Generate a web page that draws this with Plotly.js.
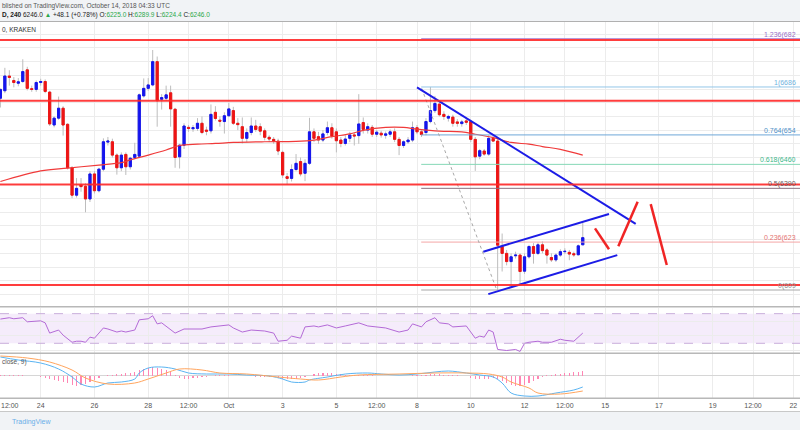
<!DOCTYPE html>
<html><head><meta charset="utf-8">
<script src="https://cdn.plot.ly/plotly-3.0.1.min.js"></script>
<style>html,body{margin:0;padding:0;background:#fff}#chart{width:800px;height:430px}</style>
</head><body><div id="chart"></div>
<script>
// ---- data (4h candles, Kraken BTCUSD, first bar 2018-09-22 12:00) ----
const firstBar = Date.UTC(2018, 8, 22, 12, 0, 0);
const barHours = 4;
const opens = [6653,6675,6718,6705,6697,6702,6736,6681,6679,6699,
 6702,6671,6575,6595,6624,6577,6450,6370,6400,6396,
 6359,6432,6383,6446,6525,6526,6487,6450,6489,6453,
 6480,6484,6660,6682,6692,6760,6650,6653,6669,6621,
 6482,6516,6568,6564,6565,6580,6560,6558,6612,6589,
 6585,6602,6617,6580,6570,6536,6553,6572,6570,6558,
 6539,6533,6528,6495,6424,6419,6445,6468,6434,6463,
 6555,6541,6531,6553,6567,6555,6531,6521,6536,6546,
 6544,6582,6560,6568,6548,6551,6545,6548,6555,6533,
 6515,6526,6531,6567,6555,6553,6585,6617,6636,6606,
 6595,6598,6584,6579,6587,6585,6533,6484,6499,6490,
 6536,6528,6220,6200,6176,6193,6195,6148,6190,6220,
 6200,6225,6210,6188,6181,6195,6205,6203,6199,6196,
 6225];
const highs = [6681,6742,6735,6715,6712,6767,6745,6690,6705,6710,
 6708,6675,6600,6658,6630,6580,6455,6420,6420,6405,
 6440,6440,6450,6536,6540,6535,6492,6495,6495,6482,
 6523,6667,6711,6712,6794,6775,6665,6690,6690,6625,
 6520,6580,6575,6575,6595,6600,6570,6635,6630,6600,
 6612,6640,6628,6595,6597,6565,6597,6590,6580,6565,
 6545,6540,6535,6500,6435,6460,6490,6480,6475,6596,
 6565,6555,6560,6585,6580,6565,6540,6545,6555,6552,
 6665,6597,6580,6575,6560,6558,6556,6562,6565,6540,
 6530,6540,6585,6575,6560,6595,6686,6660,6645,6615,
 6605,6605,6592,6590,6595,6590,6540,6505,6505,6545,
 6545,6535,6258,6210,6200,6205,6200,6200,6225,6230,
 6232,6235,6215,6200,6200,6212,6215,6210,6205,6226,
 6289.9];
const lows = [6626,6668,6690,6685,6688,6698,6676,6672,6672,6690,
 6668,6572,6568,6590,6544,6445,6361,6363,6380,6320,
 6350,6375,6378,6440,6515,6480,6430,6440,6429,6445,
 6475,6478,6655,6675,6688,6570,6620,6645,6570,6450,
 6448,6505,6555,6555,6558,6548,6545,6550,6588,6570,
 6550,6598,6575,6560,6521,6525,6545,6555,6545,6530,
 6525,6520,6487,6420,6400,6410,6440,6425,6411,6458,
 6525,6520,6525,6545,6535,6495,6510,6515,6525,6515,
 6520,6550,6550,6540,6540,6538,6535,6540,6525,6487,
 6508,6520,6525,6548,6540,6545,6580,6610,6600,6590,
 6585,6570,6570,6570,6575,6525,6441,6475,6485,6485,
 6525,6093,6147,6165,6108,6185,6108,6140,6185,6170,
 6195,6200,6170,6175,6175,6190,6198,6180,6190,6194,
 6224.4];
const closes = [6679,6718,6714,6699,6701,6731,6682,6679,6699,6702,
 6673,6578,6595,6624,6575,6450,6370,6390,6395,6359,
 6432,6383,6446,6526,6528,6487,6450,6487,6453,6478,
 6489,6663,6682,6692,6760,6646,6655,6663,6622,6480,
 6516,6572,6565,6567,6580,6553,6557,6606,6594,6586,
 6602,6622,6580,6576,6536,6553,6572,6562,6557,6539,
 6534,6529,6499,6429,6419,6445,6463,6432,6463,6555,
 6536,6531,6549,6567,6543,6529,6521,6534,6546,6543,
 6578,6562,6570,6548,6554,6546,6549,6555,6533,6515,
 6526,6531,6567,6555,6547,6585,6617,6638,6605,6600,
 6600,6580,6580,6584,6583,6533,6482,6500,6490,6536,
 6528,6224,6200,6176,6190,6195,6147,6190,6220,6200,
 6225,6208,6195,6181,6195,6205,6206,6198,6196,6222,
 6246];
// moving average (read at bar indices)
const maIdx  = [0,9,15,22,27,29,33,37,40,44,48,52,59,66,70,74,78,81,86,90,93,98,103,106,110,114,118,121,125,130];
const maVals = [6410,6441,6449,6458,6465,6473,6487,6502,6515,6519,6521,6524,6526,6527,6531,6541,6549,6559,6568,6568,6563,6557,6555,6548,6538,6524,6519,6512,6504,6487];
// RSI
const rsiIdx  = [0,2,3,5,6,9,10,11,13,14,16,17,18,19,20,21,23,24,26,27,28,30,31,33,34,35,36,39,41,43,45,47,51,52,54,56,59,61,62,64,65,67,68,70,71,73,75,77,80,82,84,86,89,91,92,94,95,97,98,100,101,104,106,107,108,109,110,111,113,115,116,117,118,120,121,123,125,126,128,130];
const rsiVals = [62.7,64.5,63.1,64.5,59,60.3,57.6,43.8,47.9,41,31.4,32.8,32.8,31.4,38.3,36.9,50.7,49.3,45.2,46.6,45.2,47.9,61.7,63.1,67.2,56.2,57.6,43.8,49.3,49.3,49.3,52.1,54.8,50.7,45.2,47.9,46.6,43.8,32.8,34.1,39.7,36.9,52.1,53.4,52.1,54.8,50.7,53.4,57.6,53.4,52.1,50.7,45.2,47.9,56.2,52.1,59,64.5,57.6,56.2,52.1,53.4,36.9,39.7,38.3,47.9,45.2,21.7,20.3,21.7,19,30,31.4,32.8,31.4,31.4,35.5,34.1,32.8,43.8];
// MACD (12, 26, close, 9)
const macdIdx  = [0,4,9,13,16,18,21,24,27,30,31,33,36,39,42,46,51,55,60,63,65,68,69,73,77,82,85,89,93,97,100,104,107,110,112,114,117,120,124,128,130];
const macdVals = [74.8,62.8,50.8,26.8,-5.2,-33.2,-45.2,-29.2,-25.2,-13.2,10.8,30.8,34.8,26.8,10.8,6.8,6.8,2.8,-1.2,-13.2,-25.2,-25.2,-17.2,-5.2,6.8,10.8,6.8,2.8,6.8,14.8,18.8,10.8,2.8,-5.2,-29.2,-69.2,-81.2,-81.2,-69.2,-57.2,-45.2];
const sigIdx  = [0,6,11,16,19,24,30,33,37,40,45,49,55,62,67,71,76,80,89,97,104,109,112,114,118,120,125,130];
const sigVals = [78.8,70.8,54.8,22.8,-9.2,-33.2,-29.2,-13.2,10.8,26.8,22.8,10.8,6.8,-5.2,-13.2,-17.2,-5.2,2.8,6.8,10.8,10.8,6.8,-5.2,-25.2,-49.2,-69.2,-73.2,-61.2];
const histVals = [2,2,1.2,1.2,1.2,1.2,-1.2,-1.2,-2,-4,
 -8,-12,-16,-20,-24,-28,-36,-40,-38,-32,
 -24,-18,-8,-2,2,4,6,8,10,12,
 16,24,28,32,34,32,28,22,14,4,
 -8,-12,-12,-10,-8,-6,-4,-2,1.2,1.2,
 2,1.2,0.8,-0.8,-1.2,-2,-2,-3.2,-4,-4,
 -4.8,-6,-8,-12,-14,-14,-12,-10,-6,0,
 6,10,12,12,10,8,6,4,3.2,2,
 3.2,2,1.2,1.2,0.8,-0.8,-1.2,-1.2,-0.8,-1.2,
 -0.8,0.8,1.2,2,4,4,6,6,6,4,
 4,2,1.2,0,-2,-8,-12,-14,-14,-12,
 -10,-12,-20,-30,-38,-40,-40,-36,-28,-20,
 -12,-4,2,4,6,8,10,12,14,16,
 18];
// horizontal support / resistance levels
const levelPrices = [6823, 6646, 6401, 6108];
// Fibonacci retracement levels
const fibLabels = ['1.236(682','1(6686','0.764(654','0.618(6460','0.5(6390','0.236(623','0(609'];
const fibPrices = [6827, 6686, 6546, 6460, 6390, 6233, 6093];
const fibStart = '2018-10-08 03:45';
const fibDiagX = ['2018-10-08 04:10','2018-10-10 23:10'];
const fibDiagY = [6682, 6093];
// drawn trend lines
const downTrendX = ['2018-10-08 00:00','2018-10-16 03:15'];
const downTrendY = [6685, 6286];
const chanUpX = ['2018-10-10 11:10','2018-10-15 03:25'];
const chanUpY = [6205, 6315];
const chanLowX = ['2018-10-10 15:40','2018-10-15 10:50'];
const chanLowY = [6081, 6195];
const projAX = ['2018-10-14 14:55','2018-10-15 03:25'];
const projAY = [6273, 6212];
const projBX = ['2018-10-15 11:45','2018-10-16 05:00'];
const projBY = [6221, 6351];
const projCX = ['2018-10-16 16:40','2018-10-17 07:00'];
const projCY = [6344, 6166];
// axis ticks (first tick's label is placed inside the left edge separately)
const tickVals = ['2018-09-22 12:00','2018-09-24','2018-09-26','2018-09-28','2018-09-29 12:00','2018-10-01','2018-10-03','2018-10-05','2018-10-06 12:00','2018-10-08','2018-10-10','2018-10-12','2018-10-13 12:00','2018-10-15','2018-10-17','2018-10-19','2018-10-20 12:00','2018-10-22'];
const tickText = ['','24','26','28','12:00','Oct','3','5','12:00','8','10','12','12:00','15','17','19','12:00','22'];
const firstTickLabel = '12:00';
const xRange = ['2018-09-22 11:39:36','2018-10-22 05:57:30'];

// ---- build ----
function barTime(i){ return new Date(firstBar + i*barHours*3600000).toISOString().slice(0,19).replace('T',' '); }
const times = opens.map((_, i) => barTime(i));
const bodyHigh = opens.map((o, i) => Math.max(o, closes[i]));
const bodyLow = opens.map((o, i) => Math.min(o, closes[i]));
const H = 430;
const py = px => 1 - px / H;
const FONT = 'Liberation Sans, Arial, sans-serif';
const BLUE = '#1414ee', RED = '#ee1414';

const traces = [
  {type:'candlestick', x:times, open:opens, high:highs, low:lows, close:closes, xaxis:'x', yaxis:'y',
   increasing:{line:{color:'#bdbdbd', width:1}, fillcolor:'#bdbdbd'},
   decreasing:{line:{color:'#bdbdbd', width:1}, fillcolor:'#bdbdbd'}, whiskerwidth:0, hoverinfo:'skip'},
  {type:'candlestick', x:times, open:opens, high:bodyHigh, low:bodyLow, close:closes, xaxis:'x', yaxis:'y',
   increasing:{line:{color:BLUE, width:1}, fillcolor:BLUE},
   decreasing:{line:{color:RED, width:1}, fillcolor:RED}, whiskerwidth:0, hoverinfo:'skip'},
  {type:'scatter', mode:'lines', x:maIdx.map(barTime), y:maVals, line:{color:'#f03a3a', width:1.2, shape:'spline'}, xaxis:'x', yaxis:'y'}
];
// fib lines
const fibColors = ['#a67fd0','#93c6e8','#6fa8d8','#86d8b6','#8a7080','#f4a6a6','#a8a8a8'];
fibPrices.forEach((p, k) => traces.push({type:'scatter', mode:'lines', x:[fibStart, xRange[1]], y:[p, p],
  line:{color:fibColors[k], width:1}, xaxis:'x', yaxis:'y'}));
traces.push({type:'scatter', mode:'lines', x:fibDiagX, y:fibDiagY, line:{color:'#a8a8a8', width:1, dash:'dot'}, xaxis:'x', yaxis:'y'});
// trend lines
[[downTrendX, downTrendY],[chanUpX, chanUpY],[chanLowX, chanLowY]].forEach(([x, y]) =>
  traces.push({type:'scatter', mode:'lines', x, y, line:{color:'#1c1ce6', width:2}, xaxis:'x', yaxis:'y'}));
[[projAX, projAY],[projBX, projBY],[projCX, projCY]].forEach(([x, y]) =>
  traces.push({type:'scatter', mode:'lines', x, y, line:{color:'#f02424', width:2.5}, xaxis:'x', yaxis:'y'}));
// RSI
traces.push({type:'scatter', mode:'lines', x:rsiIdx.map(barTime), y:rsiVals, line:{color:'#b36ad6', width:1}, xaxis:'x', yaxis:'y2'});
// MACD
traces.push({type:'bar', x:times, y:histVals, width:3600000, marker:{color:'#ff86b4', line:{width:0}}, xaxis:'x', yaxis:'y3'});
traces.push({type:'scatter', mode:'lines', x:macdIdx.map(barTime), y:macdVals, line:{color:'#5ab4f2', width:1, shape:'spline'}, xaxis:'x', yaxis:'y3'});
traces.push({type:'scatter', mode:'lines', x:sigIdx.map(barTime), y:sigVals, line:{color:'#ffa55e', width:1, shape:'spline'}, xaxis:'x', yaxis:'y3'});

const shapes = [
  {type:'rect', xref:'paper', yref:'paper', x0:0, x1:1, y0:py(21), y1:1, fillcolor:'#f1f3f6', line:{width:0}},
  {type:'line', xref:'paper', yref:'paper', x0:0, x1:1, y0:py(21.5), y1:py(21.5), line:{color:'#b0b0b0', width:1}},
  {type:'rect', xref:'paper', yref:'paper', x0:0, x1:1, y0:0, y1:py(412), fillcolor:'#f1f3f6', line:{width:0}},
  {type:'line', xref:'paper', yref:'paper', x0:0, x1:1, y0:py(411.5), y1:py(411.5), line:{color:'#c8c8c8', width:1}},
  {type:'line', xref:'paper', yref:'paper', x0:0, x1:1, y0:py(306.7), y1:py(306.7), line:{color:'#b8b8b8', width:1.5}},
  {type:'line', xref:'paper', yref:'paper', x0:0, x1:1, y0:py(353.3), y1:py(353.3), line:{color:'#b8b8b8', width:1.5}},
  {type:'line', xref:'paper', yref:'paper', x0:0, x1:1, y0:py(398.3), y1:py(398.3), line:{color:'#b8b8b8', width:1.5}},
  {type:'rect', xref:'paper', yref:'y2', x0:0, x1:1, y0:30, y1:70, fillcolor:'rgba(186,120,230,0.14)', line:{width:0}, layer:'below'},
  {type:'line', xref:'paper', yref:'y2', x0:0, x1:1, y0:70, y1:70, line:{color:'#c9aedb', width:1, dash:'dash'}},
  {type:'line', xref:'paper', yref:'y2', x0:0, x1:1, y0:30, y1:30, line:{color:'#c9aedb', width:1, dash:'dash'}}
];
levelPrices.forEach(p => shapes.push({type:'line', xref:'paper', yref:'y', x0:0, x1:1, y0:p, y1:p, line:{color:'rgba(255,40,40,0.9)', width:2}}));

const fibTextColors = ['#9a70c8','#6fb2e0','#4f8fc7','#3cb88a','#6b5a5a','#e57373','#909090'];
const annotations = [
  {xref:'paper', yref:'paper', x:0, y:py(5.7), xanchor:'left', yanchor:'middle', showarrow:false,
   text:'blished on TradingView.com, October 14, 2018 04:33 UTC', font:{family:FONT, size:6.5, color:'#555'}},
  {xref:'paper', yref:'paper', x:0, y:py(14.8), xanchor:'left', yanchor:'middle', showarrow:false,
   text:'<b>D, 240</b> 6246.0 <span style="color:#2aa84a">▲</span> +48.1 (+0.78%) O:<span style="color:#2aa84a">6225.0</span> H:<span style="color:#2aa84a">6289.9</span> L:<span style="color:#2aa84a">6224.4</span> C:<span style="color:#2aa84a">6246.0</span>',
   font:{family:FONT, size:6.5, color:'#222'}},
  {xref:'paper', yref:'paper', x:0, y:py(29.3), xanchor:'left', yanchor:'middle', showarrow:false,
   text:'0, KRAKEN', font:{family:FONT, size:6.5, color:'#333'}},
  {xref:'paper', yref:'paper', x:0, y:py(361.5), xanchor:'left', yanchor:'middle', showarrow:false,
   text:'close, 9)', font:{family:FONT, size:6.5, color:'#555'}},
  {xref:'paper', yref:'paper', x:0, y:py(405.5), xanchor:'left', yanchor:'middle', showarrow:false, borderpad:0,
   text:firstTickLabel, font:{family:FONT, size:7, color:'#555'}},
  {xref:'paper', yref:'paper', x:10/800, y:py(421.5), xanchor:'left', yanchor:'middle', showarrow:false,
   text:'TradingView', font:{family:FONT, size:7, color:'#6aaee8'}}
];
fibLabels.forEach((t, k) => annotations.push({xref:'paper', yref:'y', x:797/800, y:fibPrices[k], xanchor:'right', yanchor:'bottom',
  showarrow:false, text:t, borderpad:0, yshift:-1, font:{family:FONT, size:7, color:fibTextColors[k]}}));

const layout = {
  width:800, height:430, margin:{l:0, r:0, t:0, b:0}, paper_bgcolor:'#fff', plot_bgcolor:'#fff',
  showlegend:false, dragmode:false, bargap:0,
  font:{family:FONT, size:7, color:'#555'},
  xaxis:{type:'date', range:xRange, anchor:'y3', tickvals:tickVals, ticktext:tickText, showgrid:true, gridcolor:'#ececec',
    zeroline:false, showline:false, ticks:'', tickfont:{family:FONT, size:7, color:'#555'}, rangeslider:{visible:false},
    fixedrange:true, ticklabelstandoff:2},
  yaxis:{domain:[py(306), py(22)], range:[6046.3, 6875.8], tick0:6000, dtick:40, showticklabels:false, gridcolor:'#ececec', zeroline:false, fixedrange:true},
  yaxis2:{domain:[py(352.5), py(307.5)], range:[17.6, 78.3], tickvals:[20,40,60], showticklabels:false, gridcolor:'#ececec', zeroline:false, fixedrange:true},
  yaxis3:{domain:[py(398), py(354)], range:[-89.2, 86.8], tickvals:[0], showticklabels:false, showgrid:false, zeroline:true, zerolinecolor:'#d6d6d6', zerolinewidth:1, fixedrange:true},
  shapes, annotations
};
Plotly.newPlot('chart', traces, layout, {displayModeBar:false, staticPlot:true});
</script></body></html>
